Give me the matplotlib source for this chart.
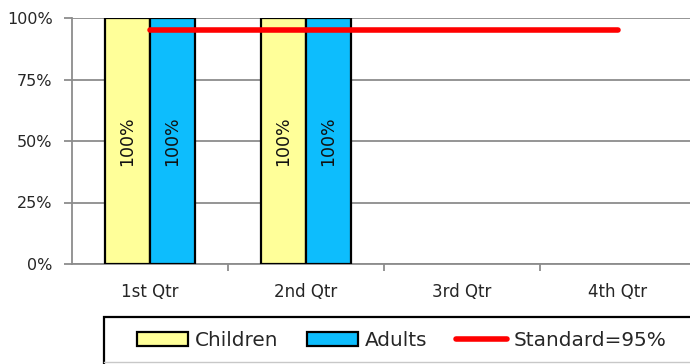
import matplotlib
matplotlib.use("Agg")
import matplotlib.pyplot as plt
import numpy as np
from matplotlib.patches import Patch, Rectangle
from matplotlib.lines import Line2D
from matplotlib.ticker import FixedLocator

categories = ["1st Qtr", "2nd Qtr", "3rd Qtr", "4th Qtr"]
children = [100, 100, None, None]
adults = [100, 100, None, None]
standard = [95, 95, 95, 95]
yticks = [0, 25, 50, 75, 100]
ytick_labels = ["0%", "25%", "50%", "75%", "100%"]

plt.rcParams['font.family'] = ['DejaVu Sans']

W, H = 690, 364
fig = plt.figure(figsize=(W / 100, H / 100), dpi=100)
# axes: left 72px, right 696px, top 18px, bottom 264px
ax = fig.add_axes([72 / W, (H - 264) / H, (696 - 72) / W, (264 - 18) / H])

x = np.arange(len(categories))
bw = 0.288
yellow = "#FFFF99"
blue = "#0DBDFD"
txtc = "#262626"

for i in range(len(categories)):
    if children[i] is not None:
        ax.bar(x[i] - bw / 2, children[i], bw, color=yellow, edgecolor="black", linewidth=1.6, zorder=3)
        ax.text(x[i] - bw / 2, children[i] / 2, f"{children[i]}%", rotation=90,
                ha="center", va="center", fontsize=12.5, color="#111111", zorder=5)
    if adults[i] is not None:
        ax.bar(x[i] + bw / 2, adults[i], bw, color=blue, edgecolor="black", linewidth=1.6, zorder=3)
        ax.text(x[i] + bw / 2, adults[i] / 2, f"{adults[i]}%", rotation=90,
                ha="center", va="center", fontsize=12.5, color="#111111", zorder=5)

ax.plot(x, standard, color="#FF0000", linewidth=4, solid_capstyle="round", zorder=4)

ax.set_xlim(-0.5, 3.5)
ax.set_ylim(0, 100)
ax.set_yticks(yticks)
ax.set_yticklabels(ytick_labels, fontsize=11.5, color=txtc)
ax.yaxis.grid(True, color="#8c8c8c", linewidth=1.3, zorder=0)
ax.set_axisbelow(True)

ax.set_xticks(x)
ax.set_xticklabels(categories, fontsize=12, color=txtc)
ax.tick_params(axis="x", which="major", length=0, pad=14)
ax.xaxis.set_minor_locator(FixedLocator([0.5, 1.5, 2.5]))
ax.tick_params(axis="x", which="minor", length=5, width=1.3, color="#8c8c8c", direction="out")
ax.tick_params(axis="y", length=6, width=1.3, color="#8c8c8c", direction="out", pad=8)

for s in ["top", "right"]:
    ax.spines[s].set_visible(False)
for s in ["left", "bottom"]:
    ax.spines[s].set_color("#8c8c8c")
    ax.spines[s].set_linewidth(1.3)

# legend frame (extends past figure edge as in reference)
fig.patches.append(Rectangle((104 / W, -0.1), 1.0, 1 - 317 / H + 0.1, transform=fig.transFigure,
                             facecolor="white", edgecolor="black", linewidth=1.6, zorder=1))
fig.add_artist(Line2D([104 / W, 1.0], [1 - 362 / H, 1 - 362 / H], transform=fig.transFigure,
                      color="#c8c8c8", linewidth=1.0))

handles = [
    Patch(facecolor=yellow, edgecolor="black", linewidth=1.6),
    Patch(facecolor=blue, edgecolor="black", linewidth=1.6),
    Line2D([0], [0], color="#FF0000", linewidth=4, solid_capstyle="round"),
]
labels = ["Children", "Adults", "Standard=95%"]
leg = fig.legend(handles, labels, loc="center left", bbox_to_anchor=(137 / W, 1 - 340.5 / H),
                 ncol=3, frameon=False, fontsize=14.4, handlelength=2.55,
                 handleheight=0.75, handletextpad=0.33, columnspacing=1.45, borderpad=0,
                 borderaxespad=0)
for t in leg.get_texts():
    t.set_color(txtc)

fig.savefig("out.png", dpi=100)
